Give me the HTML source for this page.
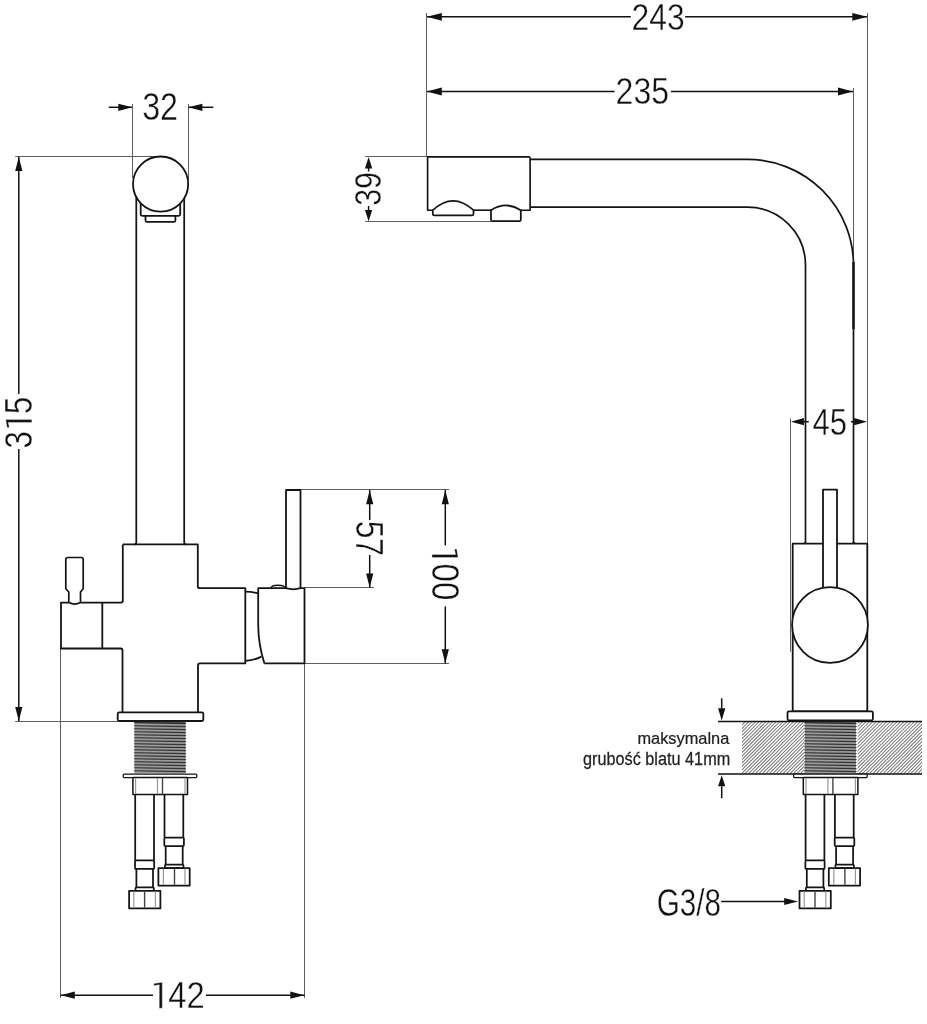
<!DOCTYPE html>
<html><head><meta charset="utf-8"><style>
html,body{margin:0;padding:0;background:#fff;}
svg{display:block;}
text{font-family:"Liberation Sans",sans-serif;}
.o{fill:none;stroke:#141414;stroke-width:1.8;stroke-linejoin:round;}
.o2{stroke:#444;stroke-width:1.4;}
.lt{stroke:#999;stroke-width:1.2;}
.e{stroke:#5e5e5e;stroke-width:1;}
.d{stroke:#111;stroke-width:1.5;}
.ct{stroke:#111;stroke-width:1.5;}
.ah{fill:#111;}
.lo{stroke-width:1.75;}
</style></head><body>
<svg style="will-change:transform" width="927" height="1024" viewBox="0 0 927 1024">
<rect width="927" height="1024" fill="#fff"/>
<line class="e" x1="15.2" y1="156.5" x2="160" y2="156.5"/>
<line class="e" x1="15.1" y1="721.5" x2="118" y2="721.5"/>
<line class="e" x1="132.5" y1="104" x2="132.5" y2="178"/>
<line class="e" x1="188.5" y1="104" x2="188.5" y2="180"/>
<line class="e" x1="60.5" y1="648" x2="60.5" y2="998"/>
<line class="e" x1="304.5" y1="663.4" x2="304.5" y2="998"/>
<line class="e" x1="301" y1="489.5" x2="449" y2="489.5"/>
<line class="e" x1="304.5" y1="587.5" x2="374" y2="587.5"/>
<line class="e" x1="304.5" y1="663.5" x2="449" y2="663.5"/>
<line class="d" x1="108.8" y1="107.3" x2="132" y2="107.3"/>
<polygon class="ah" points="132.30,107.30 118.30,103.70 118.30,110.90"/>
<line class="d" x1="188.6" y1="107.3" x2="213.3" y2="107.3"/>
<polygon class="ah" points="188.40,107.30 202.40,103.70 202.40,110.90"/>
<g transform="translate(143.40,93.60) scale(0.8514,1) translate(-1.44,26.43)"><text x="0" y="0" font-size="37.85" fill="#111" stroke="#fff" stroke-width="0.4" >32</text></g>
<line class="d" x1="18.8" y1="157" x2="18.8" y2="394"/>
<line class="d" x1="18.8" y1="449" x2="18.8" y2="721"/>
<polygon class="ah" points="18.80,157.00 15.20,171.00 22.40,171.00"/>
<polygon class="ah" points="18.80,721.00 15.20,707.00 22.40,707.00"/>
<g transform="translate(5.30,447.30) rotate(-90) scale(0.8169,1) translate(-1.45,26.53)"><text x="0" y="0" font-size="37.99" fill="#111" stroke="#fff" stroke-width="0.4" >3 5</text><path transform="translate(21.13,0) scale(0.01855,-0.01855)" d="M580,0 L770,0 L770,1409 L240,1335 L240,1210 L580,1270 Z" fill="#111" stroke="#fff" stroke-width="21.6"/></g>
<line class="d" x1="369.7" y1="490" x2="369.7" y2="520"/>
<line class="d" x1="369.7" y1="555" x2="369.7" y2="587.5"/>
<polygon class="ah" points="369.70,490.30 366.10,504.30 373.30,504.30"/>
<polygon class="ah" points="369.70,587.50 366.10,573.50 373.30,573.50"/>
<g transform="translate(382.60,522.00) rotate(90) scale(0.8316,1) translate(-1.53,26.23)"><text x="0" y="0" font-size="38.12" fill="#111" stroke="#fff" stroke-width="0.4" >57</text></g>
<line class="d" x1="445.3" y1="490" x2="445.3" y2="545.4"/>
<line class="d" x1="445.3" y1="606.4" x2="445.3" y2="663.4"/>
<polygon class="ah" points="445.30,490.30 441.70,504.30 448.90,504.30"/>
<polygon class="ah" points="445.30,663.20 441.70,649.20 448.90,649.20"/>
<g transform="translate(458.50,549.00) rotate(90) scale(0.8703,1) translate(-4.45,26.53)"><text x="0" y="0" font-size="37.99" fill="#111" stroke="#fff" stroke-width="0.4" > 00</text><path transform="translate(0.00,0) scale(0.01855,-0.01855)" d="M580,0 L770,0 L770,1409 L240,1335 L240,1210 L580,1270 Z" fill="#111" stroke="#fff" stroke-width="21.6"/></g>
<line class="d" x1="60.6" y1="995.2" x2="153" y2="995.2"/>
<line class="d" x1="206" y1="995.2" x2="304.5" y2="995.2"/>
<polygon class="ah" points="60.80,995.20 74.80,991.60 74.80,998.80"/>
<polygon class="ah" points="304.30,995.20 290.30,991.60 290.30,998.80"/>
<g transform="translate(153.80,981.80) scale(0.8669,1) translate(-4.43,26.40)"><text x="0" y="0" font-size="37.81" fill="#111" stroke="#fff" stroke-width="0.4" > 42</text><path transform="translate(0.00,0) scale(0.01846,-0.01846)" d="M580,0 L770,0 L770,1409 L240,1335 L240,1210 L580,1270 Z" fill="#111" stroke="#fff" stroke-width="21.7"/></g>
<path class="o" style="stroke-width:1.75" d="M136.3,185 V542.4 Q136.2,544.4 134.2,544.4 M184.2,185 V542.4 Q184.2,544.4 186.2,544.4"/>
<path class="o" d="M140.7,195 V214.3 Q140.7,215.8 142.2,215.8 H178.7 Q180.2,215.8 180.2,214.3 V195"/>
<path class="o" d="M145.5,215.8 V220.4 Q145.5,221.9 147,221.9 H173.9 Q175.4,221.9 175.4,220.4 V215.8"/>
<circle class="o" style="fill:#fff" cx="160.6" cy="184.1" r="27.6"/>
<path class="o" d="M122.8,544.4 H197.8 V586.2 Q197.8,588.2 199.8,588.2 H245.3 V663.4 H200 Q198,663.4 198,665.4 V712.3"/>
<path class="o" d="M122.8,544.4 V600.6 Q122.8,602.6 120.8,602.6 H80.5 M68.8,602.6 H61 V648.5 H120.5 Q122.5,648.5 122.5,650.5 V712.3"/>
<line class="o" x1="102.3" y1="602.6" x2="102.3" y2="648.5"/>
<path class="o" d="M68.8,602.6 V592 L65.8,588.7 V559.5 Q65.8,557.5 67.8,557.5 H81.2 Q83.2,557.5 83.2,559.5 V588.7 L80.5,592 V602.6 Q74.6,605.6 68.8,602.6" style="stroke-width:1.7"/>
<path class="o" d="M245.3,591.6 Q252,591.6 258.2,593.5"/>
<path class="o" d="M245.5,660.8 Q254,660.5 261.4,656.6"/>
<path class="o" d="M258.2,663.4 M264.4,663.4 H304.5 V588.2 H258.2 V625 Q258.4,645 264.4,663.4"/>
<path class="o" d="M270.9,588.2 Q271.5,585.3 278,585.3 Q284.5,585.3 285.2,588.2" style="stroke-width:1.4"/>
<path class="o" style="fill:#fff" d="M286,588.2 V490 H300.5 V588.2 Q293.2,590.4 286,588.2"/>
<rect class="o" style="fill:#fff" x="117.7" y="712.3" width="85.6" height="8.7" rx="1.5"/>
<g id="low" style="--sw:1.7"><rect x="134.6" y="721.7" width="50.9" height="51.6" fill="#8e8e8e"/><line x1="134.6" y1="722.80" x2="185.5" y2="723.60" stroke="#333" stroke-width="1.1"/><line x1="136" y1="724.30" x2="184" y2="725.00" stroke="#a8a8a8" stroke-width="0.6"/><path d="M134.6,721.90 L133.8,722.80 L134.6,723.70 Z M185.5,722.70 L186.3,723.60 L185.5,724.50 Z" fill="#222"/><line x1="134.6" y1="725.80" x2="185.5" y2="726.60" stroke="#333" stroke-width="1.1"/><line x1="136" y1="727.30" x2="184" y2="728.00" stroke="#a8a8a8" stroke-width="0.6"/><path d="M134.6,724.90 L133.8,725.80 L134.6,726.70 Z M185.5,725.70 L186.3,726.60 L185.5,727.50 Z" fill="#222"/><line x1="134.6" y1="728.80" x2="185.5" y2="729.60" stroke="#333" stroke-width="1.1"/><line x1="136" y1="730.30" x2="184" y2="731.00" stroke="#a8a8a8" stroke-width="0.6"/><path d="M134.6,727.90 L133.8,728.80 L134.6,729.70 Z M185.5,728.70 L186.3,729.60 L185.5,730.50 Z" fill="#222"/><line x1="134.6" y1="731.80" x2="185.5" y2="732.60" stroke="#333" stroke-width="1.1"/><line x1="136" y1="733.30" x2="184" y2="734.00" stroke="#a8a8a8" stroke-width="0.6"/><path d="M134.6,730.90 L133.8,731.80 L134.6,732.70 Z M185.5,731.70 L186.3,732.60 L185.5,733.50 Z" fill="#222"/><line x1="134.6" y1="734.80" x2="185.5" y2="735.60" stroke="#333" stroke-width="1.1"/><line x1="136" y1="736.30" x2="184" y2="737.00" stroke="#a8a8a8" stroke-width="0.6"/><path d="M134.6,733.90 L133.8,734.80 L134.6,735.70 Z M185.5,734.70 L186.3,735.60 L185.5,736.50 Z" fill="#222"/><line x1="134.6" y1="737.80" x2="185.5" y2="738.60" stroke="#333" stroke-width="1.1"/><line x1="136" y1="739.30" x2="184" y2="740.00" stroke="#a8a8a8" stroke-width="0.6"/><path d="M134.6,736.90 L133.8,737.80 L134.6,738.70 Z M185.5,737.70 L186.3,738.60 L185.5,739.50 Z" fill="#222"/><line x1="134.6" y1="740.80" x2="185.5" y2="741.60" stroke="#333" stroke-width="1.1"/><line x1="136" y1="742.30" x2="184" y2="743.00" stroke="#a8a8a8" stroke-width="0.6"/><path d="M134.6,739.90 L133.8,740.80 L134.6,741.70 Z M185.5,740.70 L186.3,741.60 L185.5,742.50 Z" fill="#222"/><line x1="134.6" y1="743.80" x2="185.5" y2="744.60" stroke="#333" stroke-width="1.1"/><line x1="136" y1="745.30" x2="184" y2="746.00" stroke="#a8a8a8" stroke-width="0.6"/><path d="M134.6,742.90 L133.8,743.80 L134.6,744.70 Z M185.5,743.70 L186.3,744.60 L185.5,745.50 Z" fill="#222"/><line x1="134.6" y1="746.80" x2="185.5" y2="747.60" stroke="#333" stroke-width="1.1"/><line x1="136" y1="748.30" x2="184" y2="749.00" stroke="#a8a8a8" stroke-width="0.6"/><path d="M134.6,745.90 L133.8,746.80 L134.6,747.70 Z M185.5,746.70 L186.3,747.60 L185.5,748.50 Z" fill="#222"/><line x1="134.6" y1="749.80" x2="185.5" y2="750.60" stroke="#333" stroke-width="1.1"/><line x1="136" y1="751.30" x2="184" y2="752.00" stroke="#a8a8a8" stroke-width="0.6"/><path d="M134.6,748.90 L133.8,749.80 L134.6,750.70 Z M185.5,749.70 L186.3,750.60 L185.5,751.50 Z" fill="#222"/><line x1="134.6" y1="752.80" x2="185.5" y2="753.60" stroke="#333" stroke-width="1.1"/><line x1="136" y1="754.30" x2="184" y2="755.00" stroke="#a8a8a8" stroke-width="0.6"/><path d="M134.6,751.90 L133.8,752.80 L134.6,753.70 Z M185.5,752.70 L186.3,753.60 L185.5,754.50 Z" fill="#222"/><line x1="134.6" y1="755.80" x2="185.5" y2="756.60" stroke="#333" stroke-width="1.1"/><line x1="136" y1="757.30" x2="184" y2="758.00" stroke="#a8a8a8" stroke-width="0.6"/><path d="M134.6,754.90 L133.8,755.80 L134.6,756.70 Z M185.5,755.70 L186.3,756.60 L185.5,757.50 Z" fill="#222"/><line x1="134.6" y1="758.80" x2="185.5" y2="759.60" stroke="#333" stroke-width="1.1"/><line x1="136" y1="760.30" x2="184" y2="761.00" stroke="#a8a8a8" stroke-width="0.6"/><path d="M134.6,757.90 L133.8,758.80 L134.6,759.70 Z M185.5,758.70 L186.3,759.60 L185.5,760.50 Z" fill="#222"/><line x1="134.6" y1="761.80" x2="185.5" y2="762.60" stroke="#333" stroke-width="1.1"/><line x1="136" y1="763.30" x2="184" y2="764.00" stroke="#a8a8a8" stroke-width="0.6"/><path d="M134.6,760.90 L133.8,761.80 L134.6,762.70 Z M185.5,761.70 L186.3,762.60 L185.5,763.50 Z" fill="#222"/><line x1="134.6" y1="764.80" x2="185.5" y2="765.60" stroke="#333" stroke-width="1.1"/><line x1="136" y1="766.30" x2="184" y2="767.00" stroke="#a8a8a8" stroke-width="0.6"/><path d="M134.6,763.90 L133.8,764.80 L134.6,765.70 Z M185.5,764.70 L186.3,765.60 L185.5,766.50 Z" fill="#222"/><line x1="134.6" y1="767.80" x2="185.5" y2="768.60" stroke="#333" stroke-width="1.1"/><line x1="136" y1="769.30" x2="184" y2="770.00" stroke="#a8a8a8" stroke-width="0.6"/><path d="M134.6,766.90 L133.8,767.80 L134.6,768.70 Z M185.5,767.70 L186.3,768.60 L185.5,769.50 Z" fill="#222"/><line x1="134.6" y1="770.80" x2="185.5" y2="771.60" stroke="#333" stroke-width="1.1"/><line x1="136" y1="772.30" x2="184" y2="773.00" stroke="#a8a8a8" stroke-width="0.6"/><path d="M134.6,769.90 L133.8,770.80 L134.6,771.70 Z M185.5,770.70 L186.3,771.60 L185.5,772.50 Z" fill="#222"/><line x1="134.6" y1="721.9" x2="185.5" y2="721.9" stroke="#111" stroke-width="1.3"/><rect class="o lo" x="123.2" y="774.1" width="73.6" height="3.5" rx="1" style="fill:#fff;stroke-width:1.3"/><rect class="o lo" x="132.9" y="777.6" width="54.6" height="16.9" style="fill:#fff;stroke-width:1.5"/><line class="lt" x1="135.6" y1="778" x2="135.6" y2="794"/><line class="lt" x1="157.5" y1="778" x2="157.5" y2="794"/><line class="lt" x1="185" y1="778" x2="185" y2="794"/><line class="o2" x1="162.5" y1="778" x2="162.5" y2="794"/><path class="o lo" d="M135.2,794.5 V860.4 M154,794.5 V860.4"/><rect class="o lo" x="135" y="860.4" width="19.2" height="8.5" rx="1"/><path class="o lo" d="M136.4,868.9 V887.3 M153,868.9 V887.3"/><rect class="o lo" x="135.5" y="887.3" width="18.3" height="3.5" rx="1"/><rect class="o lo" style="fill:#fff" x="129.1" y="890.8" width="31.3" height="17.6"/><line class="lt" x1="133.8" y1="891.5" x2="133.8" y2="907.7"/><line class="o2" x1="144.6" y1="891.5" x2="144.6" y2="907.7"/><line class="lt" x1="155.4" y1="891.5" x2="155.4" y2="907.7"/><path class="o lo" d="M164.5,794.5 V837.5 M183.3,794.5 V837.5"/><rect class="o lo" x="164.3" y="837.5" width="19.6" height="8.5" rx="1"/><path class="o lo" d="M165.7,846 V864.5 M182.7,846 V864.5"/><rect class="o lo" x="165" y="864.5" width="18.5" height="3.5" rx="1"/><rect class="o lo" style="fill:#fff" x="158.4" y="868" width="31.3" height="17.5"/><line class="lt" x1="163.4" y1="868.7" x2="163.4" y2="884.8"/><line class="o2" x1="174.5" y1="868.7" x2="174.5" y2="884.8"/><line class="lt" x1="185" y1="868.7" x2="185" y2="884.8"/></g>
<line class="e" x1="426.5" y1="13" x2="426.5" y2="157"/>
<line class="e" x1="867.5" y1="13" x2="867.5" y2="544"/>
<line class="e" x1="853.5" y1="88" x2="853.5" y2="262"/>
<line class="e" x1="365.2" y1="156.5" x2="427" y2="156.5"/>
<line class="e" x1="365.2" y1="221.5" x2="491" y2="221.5"/>
<line class="e" x1="790.5" y1="418.5" x2="790.5" y2="651.7"/>
<line class="d" x1="427" y1="16.8" x2="630.8" y2="16.8"/>
<line class="d" x1="685.1" y1="16.8" x2="867" y2="16.8"/>
<polygon class="ah" points="426.80,16.80 441.80,12.90 441.80,20.70"/>
<polygon class="ah" points="867.30,16.80 852.30,12.90 852.30,20.70"/>
<g transform="translate(633.10,4.10) scale(0.8503,1) translate(-1.88,26.13)"><text x="0" y="0" font-size="37.43" fill="#111" stroke="#fff" stroke-width="0.4" >243</text></g>
<line class="d" x1="427" y1="91.5" x2="614.6" y2="91.5"/>
<line class="d" x1="670.9" y1="91.5" x2="853" y2="91.5"/>
<polygon class="ah" points="426.80,91.50 441.80,87.60 441.80,95.40"/>
<polygon class="ah" points="853.00,91.50 838.00,87.60 838.00,95.40"/>
<g transform="translate(617.20,78.50) scale(0.8658,1) translate(-1.86,25.84)"><text x="0" y="0" font-size="37.01" fill="#111" stroke="#fff" stroke-width="0.4" >235</text></g>
<polygon class="ah" points="368.60,156.90 365.00,168.40 372.20,168.40"/>
<line class="d" x1="368.6" y1="168" x2="368.6" y2="171.5"/>
<polygon class="ah" points="368.60,221.50 365.00,210.00 372.20,210.00"/>
<line class="d" x1="368.6" y1="206" x2="368.6" y2="210"/>
<g transform="translate(355.50,204.70) rotate(-90) scale(0.8184,1) translate(-1.41,25.84)"><text x="0" y="0" font-size="37.01" fill="#111" stroke="#fff" stroke-width="0.4" >39</text></g>
<polygon class="ah" points="790.90,421.70 803.90,418.10 803.90,425.30"/>
<line class="d" x1="803" y1="421.7" x2="808.8" y2="421.7"/>
<polygon class="ah" points="867.10,421.70 854.10,418.10 854.10,425.30"/>
<line class="d" x1="850.9" y1="421.7" x2="855" y2="421.7"/>
<g transform="translate(813.10,409.00) scale(0.8321,1) translate(-0.86,25.73)"><text x="0" y="0" font-size="37.41" fill="#111" stroke="#fff" stroke-width="0.4" >45</text></g>
<path class="o" style="stroke-width:1.65" d="M432.8,210.2 H427.6 V156.8 H528.6 Q530.1,156.8 530.1,158.3 V210.2 H520.8"/>
<path class="o" style="stroke-width:1.65" d="M473.5,210.2 H491"/>
<path class="o" style="fill:#fff;stroke-width:1.75" d="M432.8,210.2 Q453,191.6 473.5,210.2 V213.9 Q473.5,215.4 472,215.4 H434.3 Q432.8,215.4 432.8,213.9 Z"/>
<path class="o" style="fill:#fff;stroke-width:1.75" d="M491,210.2 Q506,200.6 520.8,210.2 V219.7 Q520.8,221.2 519.3,221.2 H492.5 Q491,221.2 491,219.7 Z"/>
<path class="o" d="M530.1,159.4 H747.5 A106,106 0 0 1 853.5,265.4 V543.7" style="stroke-width:1.7"/>
<path class="o" d="M530.1,207.2 H747.5 A58,58 0 0 1 805.5,265.2 V541.7 Q805.5,543.7 803.5,543.7" style="stroke-width:1.7"/>
<path d="M853.5,262 V329" stroke="#111" stroke-width="2.4" fill="none"/>
<path class="o" d="M853.5,541.7 Q853.5,543.7 855.5,543.7" />
<rect class="o" style="fill:#fff" x="792.7" y="543.7" width="74.6" height="167.6"/>
<path class="o" d="M823,590 V489.7 H837 V590" style="fill:#fff"/>
<circle class="o" style="fill:#fff" cx="830" cy="625" r="37.9"/>
<rect class="o" style="fill:#fff" x="787.5" y="711.3" width="85.4" height="9" rx="1.5"/>
<defs><clipPath id="cph"><rect x="742" y="721.5" width="62.5" height="52.3"/><rect x="857.6" y="721.5" width="64.4" height="52.3"/></clipPath></defs>
<path clip-path="url(#cph)" d="M689.70,773.8 L742.00,721.5 M693.15,773.8 L745.45,721.5 M696.60,773.8 L748.90,721.5 M700.05,773.8 L752.35,721.5 M703.50,773.8 L755.80,721.5 M706.95,773.8 L759.25,721.5 M710.40,773.8 L762.70,721.5 M713.85,773.8 L766.15,721.5 M717.30,773.8 L769.60,721.5 M720.75,773.8 L773.05,721.5 M724.20,773.8 L776.50,721.5 M727.65,773.8 L779.95,721.5 M731.10,773.8 L783.40,721.5 M734.55,773.8 L786.85,721.5 M738.00,773.8 L790.30,721.5 M741.45,773.8 L793.75,721.5 M744.90,773.8 L797.20,721.5 M748.35,773.8 L800.65,721.5 M751.80,773.8 L804.10,721.5 M755.25,773.8 L807.55,721.5 M758.70,773.8 L811.00,721.5 M762.15,773.8 L814.45,721.5 M765.60,773.8 L817.90,721.5 M769.05,773.8 L821.35,721.5 M772.50,773.8 L824.80,721.5 M775.95,773.8 L828.25,721.5 M779.40,773.8 L831.70,721.5 M782.85,773.8 L835.15,721.5 M786.30,773.8 L838.60,721.5 M789.75,773.8 L842.05,721.5 M793.20,773.8 L845.50,721.5 M796.65,773.8 L848.95,721.5 M800.10,773.8 L852.40,721.5 M803.55,773.8 L855.85,721.5 M807.00,773.8 L859.30,721.5 M810.45,773.8 L862.75,721.5 M813.90,773.8 L866.20,721.5 M817.35,773.8 L869.65,721.5 M820.80,773.8 L873.10,721.5 M824.25,773.8 L876.55,721.5 M827.70,773.8 L880.00,721.5 M831.15,773.8 L883.45,721.5 M834.60,773.8 L886.90,721.5 M838.05,773.8 L890.35,721.5 M841.50,773.8 L893.80,721.5 M844.95,773.8 L897.25,721.5 M848.40,773.8 L900.70,721.5 M851.85,773.8 L904.15,721.5 M855.30,773.8 L907.60,721.5 M858.75,773.8 L911.05,721.5 M862.20,773.8 L914.50,721.5 M865.65,773.8 L917.95,721.5 M869.10,773.8 L921.40,721.5 M872.55,773.8 L924.85,721.5 M876.00,773.8 L928.30,721.5 M879.45,773.8 L931.75,721.5 M882.90,773.8 L935.20,721.5 M886.35,773.8 L938.65,721.5 M889.80,773.8 L942.10,721.5 M893.25,773.8 L945.55,721.5 M896.70,773.8 L949.00,721.5 M900.15,773.8 L952.45,721.5 M903.60,773.8 L955.90,721.5 M907.05,773.8 L959.35,721.5 M910.50,773.8 L962.80,721.5 M913.95,773.8 L966.25,721.5 M917.40,773.8 L969.70,721.5 M920.85,773.8 L973.15,721.5" stroke="#777" stroke-width="1.05" fill="none"/>
<line class="ct" x1="718" y1="721.4" x2="922" y2="721.4"/>
<line class="ct" x1="718" y1="773.9" x2="922" y2="773.9"/>
<use href="#low" transform="translate(670.4,0)"/>
<line class="d" x1="721.7" y1="698.3" x2="721.7" y2="708.5"/>
<polygon class="ah" points="721.70,720.50 718.10,708.30 725.30,708.30"/>
<line class="d" x1="721.7" y1="786.3" x2="721.7" y2="798.2"/>
<polygon class="ah" points="721.70,775.30 718.10,786.30 725.30,786.30"/>
<g transform="translate(638.50,731.60) scale(0.9420,1) translate(-1.15,12.59)"><text x="0" y="0" font-size="17.38" fill="#222" stroke="#222" stroke-width="0.25" >maksymalna</text></g>
<g transform="translate(583.70,751.80) scale(0.8772,1) translate(-0.78,13.65)"><text x="0" y="0" font-size="18.54" fill="#222" stroke="#222" stroke-width="0.25" >grubość blatu 41mm</text></g>
<line class="d" x1="721.2" y1="901.5" x2="786" y2="901.5"/>
<polygon class="ah" points="798.00,901.50 784.20,898.00 784.20,905.00"/>
<g transform="translate(658.20,887.50) scale(0.7534,1) translate(-1.98,28.52)"><text x="0" y="0" font-size="39.35" fill="#111" stroke="#fff" stroke-width="0.4" >G3/8</text></g>
</svg></body></html>
